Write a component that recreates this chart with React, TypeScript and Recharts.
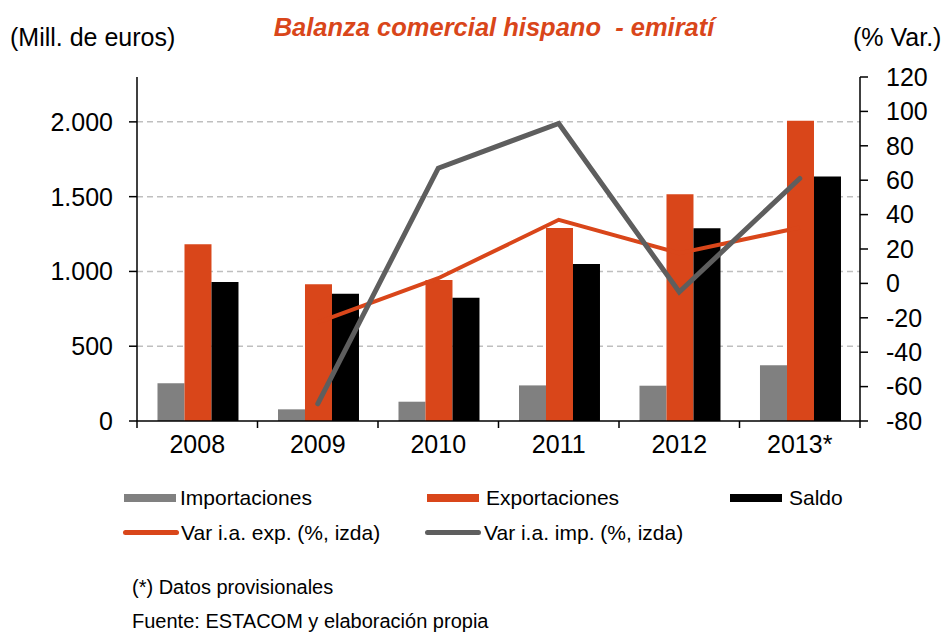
import React from "react";
import {
  ComposedChart, Bar, Line, XAxis, YAxis, ReferenceLine,
} from "recharts";

// ---------------------------------------------------------------------------
// Data (Mill. de euros / % var. interanual)
// ---------------------------------------------------------------------------

const YEARS = ["2008", "2009", "2010", "2011", "2012", "2013*"];
const IMPORTACIONES = [252, 78, 129, 238, 236, 372];
const EXPORTACIONES = [1182, 915, 942, 1291, 1516, 2008];
const SALDO = [930, 850, 824, 1049, 1289, 1635];
const VAR_EXP = [null, -22.6, 3.0, 37.0, 17.5, 32.5];
const VAR_IMP = [null, -70, 67, 93, -5, 61];

const LEFT_TICKS = [0, 500, 1000, 1500, 2000];
const RIGHT_TICKS = [-80, -60, -40, -20, 0, 20, 40, 60, 80, 100, 120];

const data = YEARS.map((year, i) => ({
  year,
  imp: IMPORTACIONES[i],
  exp: EXPORTACIONES[i],
  saldo: SALDO[i],
  varExp: VAR_EXP[i],
  varImp: VAR_IMP[i],
}));

// ---------------------------------------------------------------------------
// Styling
// ---------------------------------------------------------------------------

const FONT = '"Liberation Sans", Arial, sans-serif';
const ORANGE = "#D9461A";
const GREY_BAR = "#808080";
const GREY_LINE = "#5E5E5E";

const PLOT_LEFT = 137;
const PLOT_RIGHT = 860;
const BAND = (PLOT_RIGHT - PLOT_LEFT) / YEARS.length;

const fmtThousands = (v: number) =>
  v >= 1000 ? `${Math.floor(v / 1000)}.${String(v % 1000).padStart(3, "0")}` : String(v);

// Excel-style category tick: label centred, tick marks on the band edges
function YearTick({ x, y, payload, index }: any) {
  const left = x - BAND / 2;
  const last = index === YEARS.length - 1;
  return (
    <g>
      <line x1={left} x2={left} y1={y} y2={y + 7} stroke="#000" strokeWidth={1.5} />
      {last && (
        <line x1={x + BAND / 2} x2={x + BAND / 2} y1={y} y2={y + 7} stroke="#000" strokeWidth={1.5} />
      )}
      <text x={x} y={y + 32} textAnchor="middle" fontSize={25} fill="#000" fontFamily={FONT}>
        {payload.value}
      </text>
    </g>
  );
}

function Swatch({ x, color }: { x: number; color: string }) {
  return (
    <div style={{ position: "absolute", left: x, top: 0, width: 52, height: 8, background: color }} />
  );
}

function LineSwatch({ x, color }: { x: number; color: string }) {
  return (
    <div style={{
      position: "absolute", left: x, top: 0, width: 56, height: 5,
      background: color, borderRadius: 3,
    }} />
  );
}

const legendText: React.CSSProperties = {
  position: "absolute", fontSize: 21, lineHeight: "24px", top: -8, whiteSpace: "nowrap",
};

export default function App() {
  return (
    <div style={{
      position: "absolute", left: 0, top: 0, width: 950, height: 634,
      background: "#fff", fontFamily: FONT, color: "#000", overflow: "hidden",
    }}>
      {/* Header */}
      <div style={{
        position: "absolute", left: 0, width: 988, top: 12, textAlign: "center",
        fontSize: 25.5, fontWeight: "bold", fontStyle: "italic", color: ORANGE,
        lineHeight: "30px", whiteSpace: "pre",
      }}>
        Balanza comercial hispano  - emiratí
      </div>
      <div style={{ position: "absolute", left: 10, top: 22, fontSize: 25, lineHeight: "30px" }}>
        (Mill. de euros)
      </div>
      <div style={{ position: "absolute", left: 853, top: 22, fontSize: 25, lineHeight: "30px" }}>
        (% Var.)
      </div>

      <div style={{ position: "absolute", left: 0, top: 0 }}>
        <ComposedChart
          width={950}
          height={470}
          data={data}
          margin={{ top: 77, right: 0, bottom: 0, left: 0 }}
          barCategoryGap="17%"
          barGap={0}
        >
          <XAxis
            dataKey="year"
            height={49}
            tickLine={false}
            tickSize={0}
            tickMargin={0}
            axisLine={{ stroke: "#000", strokeWidth: 1.5 }}
            tick={<YearTick />}
            interval={0}
          />
          <YAxis
            yAxisId="left"
            width={137}
            domain={[0, 2300]}
            ticks={LEFT_TICKS}
            tickFormatter={fmtThousands}
            tickSize={8}
            tickMargin={16}
            axisLine={{ stroke: "#000", strokeWidth: 1.5 }}
            tickLine={{ stroke: "#000", strokeWidth: 1.5 }}
            tick={{ fill: "#000", fontSize: 25, fontFamily: FONT }}
            allowDataOverflow
          />
          <YAxis
            yAxisId="right"
            orientation="right"
            width={90}
            domain={[-80, 120]}
            ticks={RIGHT_TICKS}
            tickSize={8}
            tickMargin={18}
            axisLine={{ stroke: "#000", strokeWidth: 1.5 }}
            tickLine={{ stroke: "#000", strokeWidth: 1.5 }}
            tick={{ fill: "#000", fontSize: 25, fontFamily: FONT, textAnchor: "start" }}
            allowDataOverflow
          />

          {/* dashed gridlines on the labelled left-axis values */}
          {LEFT_TICKS.filter((t) => t > 0).map((t) => (
            <ReferenceLine
              key={t}
              yAxisId="left"
              y={t}
              stroke="#BFBFBF"
              strokeWidth={1.5}
              strokeDasharray="6 4"
              zIndex={-1}
            />
          ))}

          <Bar yAxisId="left" dataKey="imp" name="Importaciones" fill={GREY_BAR} isAnimationActive={false} />
          <Bar yAxisId="left" dataKey="exp" name="Exportaciones" fill={ORANGE} isAnimationActive={false} />
          <Bar yAxisId="left" dataKey="saldo" name="Saldo" fill="#000" isAnimationActive={false} />

          <Line
            yAxisId="right"
            dataKey="varExp"
            name="Var i.a. exp. (%, izda)"
            stroke={ORANGE}
            strokeWidth={4}
            dot={false}
            activeDot={false}
            isAnimationActive={false}
          />
          <Line
            yAxisId="right"
            dataKey="varImp"
            name="Var i.a. imp. (%, izda)"
            stroke={GREY_LINE}
            strokeWidth={5}
            strokeLinecap="round"
            dot={false}
            activeDot={false}
            isAnimationActive={false}
          />
        </ComposedChart>
      </div>

      {/* Legend row 1 */}
      <div style={{ position: "absolute", left: 0, top: 494, width: 950, height: 10 }}>
        <Swatch x={124} color={GREY_BAR} />
        <span style={{ ...legendText, left: 180 }}>Importaciones</span>
        <Swatch x={427} color={ORANGE} />
        <span style={{ ...legendText, left: 486 }}>Exportaciones</span>
        <Swatch x={730} color="#000" />
        <span style={{ ...legendText, left: 789 }}>Saldo</span>
      </div>
      {/* Legend row 2 */}
      <div style={{ position: "absolute", left: 0, top: 530, width: 950, height: 10 }}>
        <LineSwatch x={123} color={ORANGE} />
        <span style={{ ...legendText, left: 181, top: -9 }}>Var i.a. exp. (%, izda)</span>
        <LineSwatch x={425} color={GREY_LINE} />
        <span style={{ ...legendText, left: 484, top: -9 }}>Var i.a. imp. (%, izda)</span>
      </div>

      {/* Footnotes */}
      <div style={{ position: "absolute", left: 132, top: 575, fontSize: 20, lineHeight: "24px" }}>
        (*) Datos provisionales
      </div>
      <div style={{ position: "absolute", left: 132, top: 609, fontSize: 20, lineHeight: "24px" }}>
        Fuente: ESTACOM y elaboración propia
      </div>
    </div>
  );
}
